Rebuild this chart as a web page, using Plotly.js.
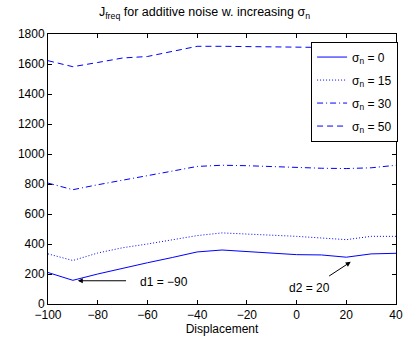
<!DOCTYPE html>
<html>
<head>
<meta charset="utf-8">
<script src="https://cdn.plot.ly/plotly-3.0.1.min.js"></script>
<style>html,body{margin:0;padding:0;background:#fff;}#chart{width:409px;height:341px;}</style>
</head>
<body>
<div id="chart"></div>
<script>
const displacement = [-100, -90, -80, -70, -60, -50, -40, -30, -20, -10, 0, 10, 20, 30, 40];
const sigma0  = [210, 158, 200, 240, 275, 310, 347, 360, 351, 338, 329, 327, 312, 334, 338];
const sigma15 = [334, 290, 340, 375, 400, 430, 456, 474, 467, 456, 451, 440, 429, 451, 451];
const sigma30 = [806, 762, 795, 824, 855, 886, 917, 925, 922, 915, 910, 905, 903, 908, 925];
const sigma50 = [1622, 1582, 1610, 1640, 1650, 1685, 1718, 1718, 1716, 1716, 1715, 1712, 1710, 1705, 1705];
const seriesNames = ['σ<sub>n</sub> = 0', 'σ<sub>n</sub> = 15', 'σ<sub>n</sub> = 30', 'σ<sub>n</sub> = 50'];
const xTicks = [-100, -80, -60, -40, -20, 0, 20, 40];
const yTicks = [0, 200, 400, 600, 800, 1000, 1200, 1400, 1600, 1800];
// annotations: label text, arrow head (data), arrow tail (data), text position (data)
const annoText = ['d1 = −90', 'd2 = 20'];
const annoHeadX = [-88, 21.8];
const annoHeadY = [155, 281];
const annoTailX = [-68, 12.5];
const annoTailY = [155, 180];
const annoTextX = [-53.5, 5];
const annoTextY = [147, 110];

const blue = 'rgb(0,0,255)';
const dashes = ['solid', '1px,2px', '6px,3px,1px,3px', '6px,4px'];
const ys = [sigma0, sigma15, sigma30, sigma50];
const traces = ys.map((y, i) => ({
  x: displacement, y: y, type: 'scatter', mode: 'lines', name: seriesNames[i],
  legendgroup: 'g' + i,
  line: {color: blue, width: 1, dash: dashes[i]}
}));

const annotations = [];
for (let i = 0; i < annoText.length; i++) {
  annotations.push({x: annoHeadX[i], y: annoHeadY[i], xref: 'x', yref: 'y',
    ax: annoTailX[i], ay: annoTailY[i], axref: 'x', ayref: 'y', text: '',
    showarrow: true, arrowhead: 2, arrowsize: 1, arrowwidth: 1, arrowcolor: '#000'});
  annotations.push({x: annoTextX[i], y: annoTextY[i], xref: 'x', yref: 'y', text: annoText[i],
    showarrow: false, font: {size: 12, color: '#000'}});
}

const axisCommon = {showline: true, linecolor: '#000', linewidth: 1, mirror: 'allticks',
  ticks: 'inside', ticklen: 4, tickcolor: '#000', showgrid: false, zeroline: false,
  tickfont: {size: 12, color: '#000'}};

const layout = {
  width: 409, height: 341,
  margin: {l: 48, r: 11, t: 34, b: 37},
  paper_bgcolor: '#fff', plot_bgcolor: '#fff',
  font: {family: 'Liberation Sans, Arial, sans-serif', size: 12, color: '#000'},
  title: {text: 'J<sub>freq</sub> for additive noise w. increasing σ<sub>n</sub>',
    font: {size: 12.5, color: '#000'}, x: 0.5, xanchor: 'center', y: 0.965, yanchor: 'middle'},
  xaxis: Object.assign({}, axisCommon, {range: [-100, 40], tickvals: xTicks,
    ticktext: xTicks.map(v => v < 0 ? '−' + Math.abs(v) : String(v)),
    title: {text: 'Displacement', font: {size: 12, color: '#000'}, standoff: 0}}),
  yaxis: Object.assign({}, axisCommon, {range: [0, 1800], tickvals: yTicks}),
  showlegend: true,
  legend: {x: 0.756, y: 0.972, xanchor: 'left', yanchor: 'top', bgcolor: '#fff',
    bordercolor: '#000', borderwidth: 1, font: {size: 12, color: '#000'}, tracegroupgap: 4},
  annotations: annotations
};

Plotly.newPlot('chart', traces, layout, {displayModeBar: false, staticPlot: true});
</script>
</body>
</html>
